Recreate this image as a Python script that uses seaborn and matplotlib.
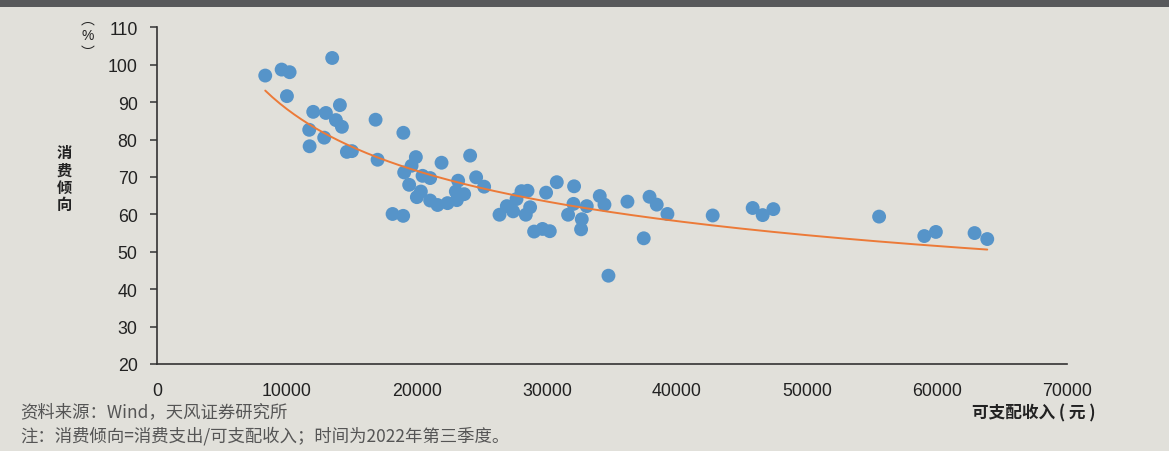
import numpy as np
import pandas as pd
import seaborn as sns
import matplotlib
matplotlib.use("Agg")
import matplotlib.pyplot as plt
from matplotlib.patches import Rectangle

# Per-capita disposable income (yuan) and consumption propensity (%), by province
income = [8326, 9587, 10202, 9995, 13477, 11709, 12017, 11740, 12993, 12862,
          14069, 13762, 14223, 14608, 14992, 16814, 16968, 18951, 18121, 18936,
          19013, 19582, 19912, 19397, 19989, 20297, 20427, 21012, 21012, 21581,
          21888, 22349, 23165, 22987, 23627, 23065, 24087, 24548, 25164, 26347,
          26909, 27393, 27655, 28039, 28501, 28370, 28701, 29008, 29654, 30215,
          29930, 30753, 31622, 32037, 32083, 32675, 32621, 33059, 34058, 34420,
          34727, 36188, 37441, 37887, 38441, 39264, 42746, 45821, 46590, 47413,
          55547, 59022, 59914, 62889, 63866]
propensity = [97.1, 98.7, 98.0, 91.6, 101.8, 82.6, 87.4, 78.2, 87.1, 80.5,
              89.2, 85.2, 83.4, 76.7, 76.9, 85.3, 74.6, 81.8, 60.1, 59.6,
              71.2, 73.0, 75.3, 67.9, 64.6, 66.1, 70.3, 69.7, 63.7, 62.5,
              73.8, 63.0, 69.0, 66.1, 65.4, 63.8, 75.7, 69.9, 67.4, 59.9,
              62.2, 60.8, 64.1, 66.2, 66.3, 59.9, 61.9, 55.4, 56.1, 55.5,
              65.8, 68.6, 59.9, 62.8, 67.5, 58.7, 56.0, 62.2, 64.9, 62.6,
              43.6, 63.4, 53.6, 64.7, 62.6, 60.1, 59.7, 61.7, 59.8, 61.4,
              59.4, 54.2, 55.3, 55.0, 53.4]

x_ticks = [0, 10000, 20000, 30000, 40000, 50000, 60000, 70000]
y_ticks = [20, 30, 40, 50, 60, 70, 80, 90, 100, 110]

df = pd.DataFrame({"income": income, "propensity": propensity})

BG = "#e1e0da"
DOT = "#5694c9"
TREND = "#ec7a38"
INK = "#222222"
CJK = ["Noto Sans CJK SC", "DejaVu Sans"]

sns.set_theme(style="ticks")
plt.rcParams["font.family"] = ["Liberation Sans", "Noto Sans CJK SC", "DejaVu Sans"]

fig = plt.figure(figsize=(11.69, 4.52), dpi=100, facecolor=BG)
ax = fig.add_axes([157 / 1169, 1 - 365 / 452, (1067 - 157) / 1169, (365 - 28.3) / 452])
ax.set_facecolor(BG)

sns.scatterplot(data=df, x="income", y="propensity", ax=ax, s=100,
                color=DOT, edgecolor="none", linewidth=0, zorder=3)

# Power-law trendline fitted in log-log space
b, log_a = np.polyfit(np.log(df["income"]), np.log(df["propensity"]), 1)
xs = np.linspace(df["income"].min(), df["income"].max(), 200)
ax.plot(xs, np.exp(log_a) * xs ** b, color=TREND, lw=1.4, zorder=4)

ax.set_xlim(0, 70000)
ax.set_ylim(20, 110)
ax.set_xticks(x_ticks)
ax.set_yticks(y_ticks)
ax.set_xticklabels([str(v) for v in x_ticks])
ax.set_yticklabels([str(v) for v in y_ticks])
ax.tick_params(axis="x", length=0, pad=13, labelsize=12.8, labelcolor=INK)
ax.tick_params(axis="y", length=5, width=1.1, color="#333333", pad=9,
               labelsize=12.8, labelcolor=INK)
ax.set_xlabel("")
ax.set_ylabel("")
for side in ("top", "right"):
    ax.spines[side].set_visible(False)
for side in ("left", "bottom"):
    ax.spines[side].set_color("#333333")
    ax.spines[side].set_linewidth(1.2)

# Dark header strip
fig.patches.append(Rectangle((0, 1 - 8 / 452), 1, 8 / 452, transform=fig.transFigure,
                             facecolor="#58595b", edgecolor="none", zorder=0))

# Vertical axis title and unit (vertical-form parentheses around %)
fig.text(64 / 1169, 1 - 179 / 452, "消\n费\n倾\n向", family=CJK, fontsize=11,
         fontweight="bold", color=INK, ha="center", va="center", linespacing=1.08)
fig.text(88 / 1169, 1 - 20 / 452, "︵", family=CJK, fontsize=10, color=INK,
         ha="center", va="center")
fig.text(88 / 1169, 1 - 36.5 / 452, "%", fontsize=10, color=INK,
         ha="center", va="center")
fig.text(88 / 1169, 1 - 53 / 452, "︶", family=CJK, fontsize=10, color=INK,
         ha="center", va="center")

# Horizontal axis title
fig.text(1095 / 1169, 1 - 413 / 452, "可支配收入 ( 元 )", family=CJK, fontsize=12,
         fontweight="bold", color=INK, ha="right", va="center")

# Source and note
fig.text(20 / 1169, 1 - 412 / 452, "资料来源：Wind，天风证券研究所", family=CJK,
         fontsize=12.5, color="#555555", ha="left", va="center")
fig.text(20 / 1169, 1 - 436 / 452, "注：消费倾向=消费支出/可支配收入；时间为2022年第三季度。",
         family=CJK, fontsize=12.5, color="#555555", ha="left", va="center")

fig.savefig("out.png", dpi=100, facecolor=BG)
